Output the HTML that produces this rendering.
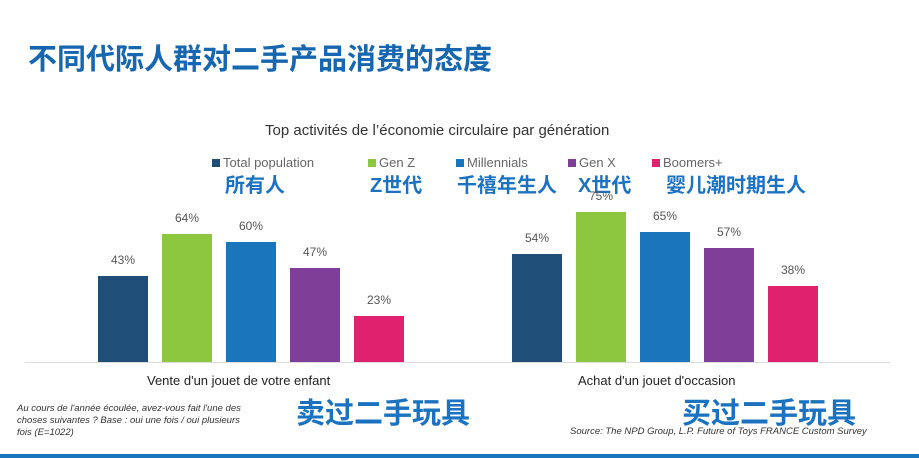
<!DOCTYPE html>
<html><head><meta charset="utf-8"><style>
body{margin:0;width:919px;height:458px;background:#fff;position:relative;overflow:hidden;font-family:"Liberation Sans","Noto Sans CJK SC",sans-serif}
.a{position:absolute;white-space:nowrap}
.cn{color:#1a72c0;font-weight:bold;font-family:"Liberation Sans","Noto Sans CJK SC",sans-serif}
.lg{font-size:13px;color:#666}
.sw{display:inline-block;width:8px;height:8px;margin-right:3px}
</style></head><body>
<div class="a cn" style="left:28px;top:36px;font-size:29px;color:#1667b0">不同代际人群对二手产品消费的态度</div>
<div class="a" style="left:265px;top:122px;font-size:15px;color:#333">Top activités de l’économie circulaire par génération</div>
<div class="a lg" style="left:212px;top:155px"><span class="sw" style="background:#1f4e79"></span>Total population</div>
<div class="a lg" style="left:368px;top:155px"><span class="sw" style="background:#8dc63f"></span>Gen Z</div>
<div class="a lg" style="left:456px;top:155px"><span class="sw" style="background:#1b75bc"></span>Millennials</div>
<div class="a lg" style="left:568px;top:155px"><span class="sw" style="background:#7f3f98"></span>Gen X</div>
<div class="a lg" style="left:652px;top:155px"><span class="sw" style="background:#e0226e"></span>Boomers+</div>
<div class="a cn" style="left:225px;top:169px;font-size:20px">所有人</div>
<div class="a cn" style="left:370px;top:169px;font-size:20px">Z世代</div>
<div class="a cn" style="left:457px;top:169px;font-size:20px">千禧年生人</div>
<div class="a cn" style="left:578px;top:169px;font-size:20px">X世代</div>
<div class="a cn" style="left:666px;top:169px;font-size:20px">婴儿潮时期生人</div>
<svg class="a" style="left:0;top:0" width="919" height="458" id="chart"></svg>
<div class="a" style="left:147px;top:373px;font-size:13px;color:#222">Vente d'un jouet de votre enfant</div>
<div class="a" style="left:578px;top:373px;font-size:13px;color:#222">Achat d'un jouet d'occasion</div>
<div class="a cn" style="left:296px;top:390px;font-size:29px">卖过二手玩具</div>
<div class="a cn" style="left:682px;top:390px;font-size:29px">买过二手玩具</div>
<div class="a" style="left:17px;top:403px;font-size:9.5px;line-height:12px;color:#333;font-style:italic">Au cours de l'année écoulée, avez-vous fait l'une des<br>choses suivantes ? Base : oui une fois / oui plusieurs<br>fois (E=1022)</div>
<div class="a" style="left:570px;top:426px;font-size:9.5px;color:#333;font-style:italic">Source: The NPD Group, L.P. Future of Toys FRANCE Custom Survey</div>
<div class="a" style="left:0;top:454px;width:919px;height:4px;background:#1b75bc"></div>
<script>
const groups=["Vente","Achat"];
const series=["Total population","Gen Z","Millennials","Gen X","Boomers+"];
const colors=["#1f4e79","#8dc63f","#1b75bc","#7f3f98","#e0226e"];
const vente=[43,64,60,47,23];
const achat=[54,75,65,57,38];
const data=[vente,achat];
const svg=document.getElementById('chart');
const NS='http://www.w3.org/2000/svg';
const base=362, pxPer=2;
const y=v=>base-v*pxPer;
const groupX=[98,512], step=64, bw=50;
const ln=document.createElementNS(NS,'line');
ln.setAttribute('x1',25);ln.setAttribute('x2',890);ln.setAttribute('y1',base+0.5);ln.setAttribute('y2',base+0.5);
ln.setAttribute('stroke','#ddd');


svg.appendChild(ln);
data.forEach((arr,g)=>{arr.forEach((v,i)=>{
 const x=groupX[g]+i*step;
 const r=document.createElementNS(NS,'rect');
 r.setAttribute('x',x);r.setAttribute('y',y(v));r.setAttribute('width',bw);r.setAttribute('height',base-y(v));r.setAttribute('fill',colors[i]);
 
 
 svg.appendChild(r);
 const t=document.createElementNS(NS,'text');
 t.setAttribute('x',x+bw/2);t.setAttribute('y',y(v)-12);t.setAttribute('text-anchor','middle');
 t.setAttribute('font-size','12');t.setAttribute('fill','#555');t.setAttribute('font-family','Liberation Sans, sans-serif');
 t.textContent=v+'%';
 
 
 svg.appendChild(t);
});});
</script>
</body></html>
